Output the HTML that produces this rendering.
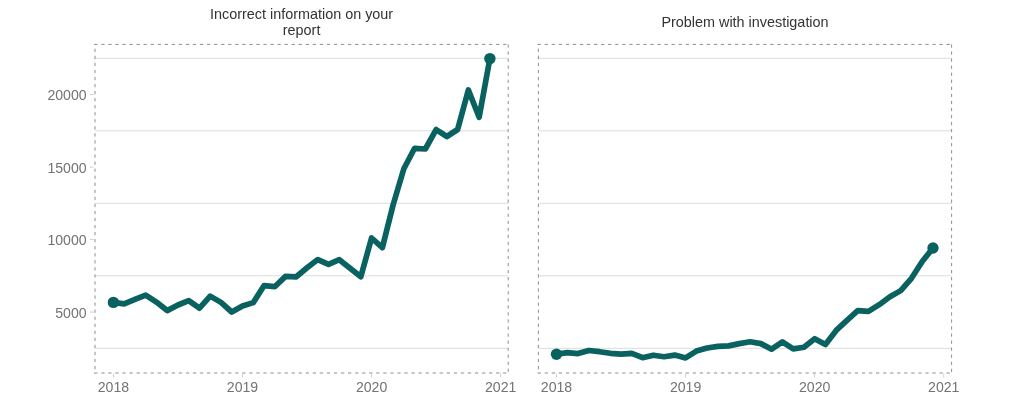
<!DOCTYPE html>
<html><head><meta charset="utf-8"><style>
html,body{margin:0;padding:0;background:#fff;width:1024px;height:402px;overflow:hidden}
svg{display:block;will-change:transform}
text{font-family:"Liberation Sans",sans-serif}
.ax{font-size:14.1px;fill:#737373}
.tt{font-size:14.4px;fill:#333333}
</style></head><body>
<svg width="1024" height="402" viewBox="0 0 1024 402">
<rect width="1024" height="402" fill="#fff"/>
<text x="301.6" y="19" text-anchor="middle" class="tt">Incorrect information on your</text>
<text x="301.6" y="34.5" text-anchor="middle" class="tt">report</text>
<text x="745.0" y="26.7" text-anchor="middle" class="tt">Problem with investigation</text>
<line x1="95" x2="508.2" y1="58.3" y2="58.3" stroke="#dcdcdc" stroke-width="1"/>
<line x1="95" x2="508.2" y1="130.8" y2="130.8" stroke="#dcdcdc" stroke-width="1"/>
<line x1="95" x2="508.2" y1="203.3" y2="203.3" stroke="#dcdcdc" stroke-width="1"/>
<line x1="95" x2="508.2" y1="275.8" y2="275.8" stroke="#dcdcdc" stroke-width="1"/>
<line x1="95" x2="508.2" y1="348.3" y2="348.3" stroke="#dcdcdc" stroke-width="1"/>
<line x1="94.2" x2="508.7" y1="44.4" y2="44.4" stroke="#8e8e8e" stroke-width="1" stroke-dasharray="3.3 3.75"/>
<line x1="94.2" x2="508.7" y1="373.0" y2="373.0" stroke="#8e8e8e" stroke-width="1" stroke-dasharray="3.3 3.75"/>
<line x1="95" x2="95" y1="41.65" y2="373.5" stroke="#8e8e8e" stroke-width="1" stroke-dasharray="3.3 3.75" clip-path="url(#c95)"/>
<clipPath id="c95"><rect x="93" y="43.9" width="417.2" height="329.6"/></clipPath>
<line x1="508.2" x2="508.2" y1="44.4" y2="373.5" stroke="#8e8e8e" stroke-width="1" stroke-dasharray="3.3 3.75"/>
<line x1="113.40" x2="113.40" y1="373.5" y2="377.5" stroke="#cfcfcf" stroke-width="1"/>
<text x="113.40" y="392" text-anchor="middle" class="ax">2018</text>
<line x1="242.48" x2="242.48" y1="373.5" y2="377.5" stroke="#cfcfcf" stroke-width="1"/>
<text x="242.48" y="392" text-anchor="middle" class="ax">2019</text>
<line x1="371.57" x2="371.57" y1="373.5" y2="377.5" stroke="#cfcfcf" stroke-width="1"/>
<text x="371.57" y="392" text-anchor="middle" class="ax">2020</text>
<line x1="500.65" x2="500.65" y1="373.5" y2="377.5" stroke="#cfcfcf" stroke-width="1"/>
<text x="500.65" y="392" text-anchor="middle" class="ax">2021</text>
<line x1="90" x2="93.5" y1="94.55" y2="94.55" stroke="#cfcfcf" stroke-width="1"/>
<text x="86.6" y="100.14999999999999" text-anchor="end" class="ax">20000</text>
<line x1="90" x2="93.5" y1="167.05" y2="167.05" stroke="#cfcfcf" stroke-width="1"/>
<text x="86.6" y="172.65" text-anchor="end" class="ax">15000</text>
<line x1="90" x2="93.5" y1="239.55" y2="239.55" stroke="#cfcfcf" stroke-width="1"/>
<text x="86.6" y="245.15" text-anchor="end" class="ax">10000</text>
<line x1="90" x2="93.5" y1="312.05" y2="312.05" stroke="#cfcfcf" stroke-width="1"/>
<text x="86.6" y="317.65000000000003" text-anchor="end" class="ax">5000</text>
<polyline points="113.40,302.40 124.16,303.90 134.91,299.40 145.67,295.10 156.43,302.10 167.19,310.60 177.94,305.00 188.70,300.60 199.46,308.20 210.21,296.10 220.97,302.40 231.73,312.00 242.48,306.00 253.24,302.60 264.00,285.70 274.75,286.70 285.51,276.40 296.27,276.80 307.03,267.80 317.78,259.60 328.54,264.40 339.30,259.70 350.05,268.20 360.81,276.70 371.57,238.00 382.33,247.70 393.08,205.00 403.84,168.80 414.60,148.30 425.35,149.00 436.11,129.60 446.87,136.50 457.62,129.50 468.38,90.00 479.14,117.30 489.89,58.60" fill="none" stroke="#0a6260" stroke-width="5.7" stroke-linejoin="round" stroke-linecap="round"/>
<circle cx="113.4" cy="302.4" r="5.7" fill="#0a6260"/>
<circle cx="489.89" cy="58.6" r="5.7" fill="#0a6260"/>
<line x1="538.4" x2="951.5999999999999" y1="58.3" y2="58.3" stroke="#dcdcdc" stroke-width="1"/>
<line x1="538.4" x2="951.5999999999999" y1="130.8" y2="130.8" stroke="#dcdcdc" stroke-width="1"/>
<line x1="538.4" x2="951.5999999999999" y1="203.3" y2="203.3" stroke="#dcdcdc" stroke-width="1"/>
<line x1="538.4" x2="951.5999999999999" y1="275.8" y2="275.8" stroke="#dcdcdc" stroke-width="1"/>
<line x1="538.4" x2="951.5999999999999" y1="348.3" y2="348.3" stroke="#dcdcdc" stroke-width="1"/>
<line x1="537.6" x2="952.0999999999999" y1="44.4" y2="44.4" stroke="#8e8e8e" stroke-width="1" stroke-dasharray="3.3 3.75"/>
<line x1="537.6" x2="952.0999999999999" y1="373.0" y2="373.0" stroke="#8e8e8e" stroke-width="1" stroke-dasharray="3.3 3.75"/>
<line x1="538.4" x2="538.4" y1="41.65" y2="373.5" stroke="#8e8e8e" stroke-width="1" stroke-dasharray="3.3 3.75" clip-path="url(#c538)"/>
<clipPath id="c538"><rect x="536.4" y="43.9" width="417.2" height="329.6"/></clipPath>
<line x1="951.5999999999999" x2="951.5999999999999" y1="44.4" y2="373.5" stroke="#8e8e8e" stroke-width="1" stroke-dasharray="3.3 3.75"/>
<line x1="556.50" x2="556.50" y1="373.5" y2="377.5" stroke="#cfcfcf" stroke-width="1"/>
<text x="556.50" y="392" text-anchor="middle" class="ax">2018</text>
<line x1="685.58" x2="685.58" y1="373.5" y2="377.5" stroke="#cfcfcf" stroke-width="1"/>
<text x="685.58" y="392" text-anchor="middle" class="ax">2019</text>
<line x1="814.67" x2="814.67" y1="373.5" y2="377.5" stroke="#cfcfcf" stroke-width="1"/>
<text x="814.67" y="392" text-anchor="middle" class="ax">2020</text>
<line x1="943.75" x2="943.75" y1="373.5" y2="377.5" stroke="#cfcfcf" stroke-width="1"/>
<text x="943.75" y="392" text-anchor="middle" class="ax">2021</text>
<polyline points="556.50,354.20 567.26,352.60 578.01,353.60 588.77,350.50 599.53,351.70 610.28,353.30 621.04,354.20 631.80,353.30 642.56,357.70 653.31,355.20 664.07,356.70 674.83,355.10 685.58,357.90 696.34,351.10 707.10,348.00 717.86,346.40 728.61,345.90 739.37,343.60 750.13,341.80 760.88,343.60 771.64,349.20 782.40,341.80 793.15,348.90 803.91,347.20 814.67,338.70 825.42,344.50 836.18,330.40 846.94,320.30 857.70,310.70 868.45,311.40 879.21,304.70 889.97,296.80 900.72,290.60 911.48,278.30 922.24,261.50 933.00,248.00" fill="none" stroke="#0a6260" stroke-width="5.7" stroke-linejoin="round" stroke-linecap="round"/>
<circle cx="556.5" cy="354.2" r="5.7" fill="#0a6260"/>
<circle cx="933.00" cy="248.0" r="5.7" fill="#0a6260"/>
</svg>
</body></html>
